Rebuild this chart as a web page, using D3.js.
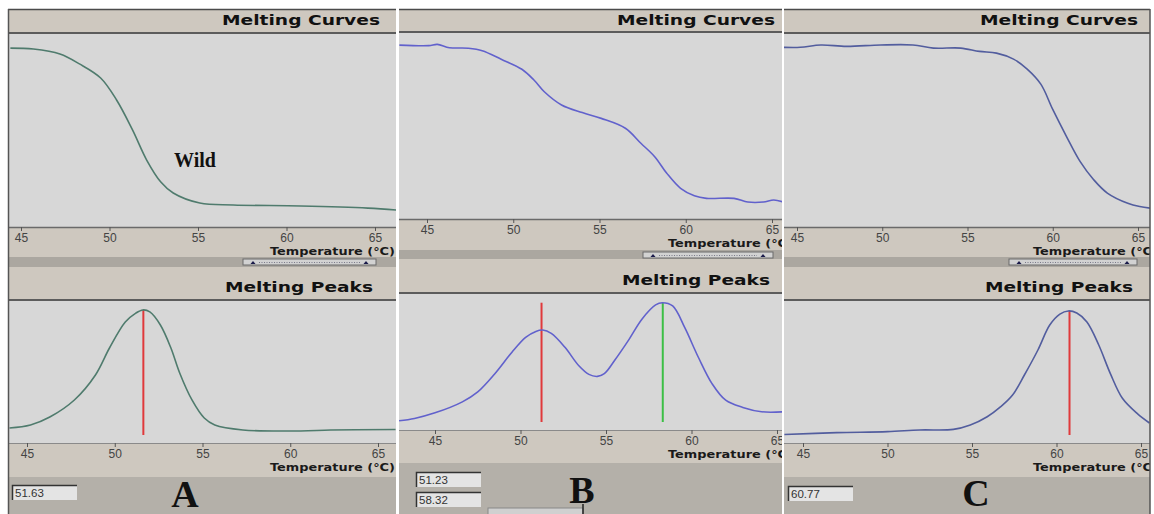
<!DOCTYPE html>
<html>
<head>
<meta charset="utf-8">
<script src="https://cdn.jsdelivr.net/npm/d3@7"></script>
<style>
  body { margin: 0; background: #fff; }
  svg { display: block; }
</style>
</head>
<body>
<svg id="fig" width="1154" height="514"></svg>
<script>
// ticks on every temperature axis
var tempTicks = [45, 50, 55, 60, 65];

// A : wild type, one melting domain
var aCurveTemp  = [44.4, 45.7, 47.2, 48.3, 49.5, 50.4, 51.3, 52.1, 52.9, 53.6, 55.1, 57.0, 60.8, 64.6, 66.2];
var aCurveFluor = [92.7, 92.2, 89.6, 84.5, 77.2, 65.8, 50.3, 34.7, 23.3, 17.6, 12.4, 11.4, 10.9, 9.8, 8.8];
var aPeakTemp   = [44.0, 45.2, 46.3, 47.7, 48.9, 49.7, 50.6, 51.2, 51.6, 52.0, 52.6, 53.2, 53.7, 54.4, 55.1, 55.7, 57.3, 60.6, 62.3, 66.0];
var aPeakDeriv  = [10.6, 12.7, 18.3, 30.3, 47.9, 66.9, 85.2, 91.5, 93.7, 92.3, 83.1, 66.9, 49.3, 30.3, 17.6, 12.7, 9.2, 8.5, 9.2, 9.5];
var aTm = [51.63];

// B : heterozygous, two peaks
var bCurveTemp  = [43.4, 45.1, 45.6, 46.3, 47.4, 48.2, 49.3, 50.5, 51.2, 51.8, 52.8, 54.0, 55.1, 56.5, 57.4, 58.2, 58.9, 59.7, 60.5, 61.2, 62.8, 63.6, 64.5, 65.1, 65.6];
var bCurveFluor = [93.5, 93.2, 93.9, 92.1, 91.8, 90.5, 85.9, 80.5, 74.7, 68.4, 61.3, 57.2, 54.1, 48.8, 40.7, 33.5, 24.6, 16.5, 12.5, 11.1, 11.1, 9.1, 9.1, 10.2, 9.3];
var bPeakTemp   = [42.9, 43.8, 45.0, 46.6, 47.5, 48.5, 49.5, 50.3, 50.9, 51.3, 51.8, 52.6, 53.4, 54.0, 54.5, 54.9, 55.5, 56.3, 57.1, 57.9, 58.3, 58.9, 59.6, 60.4, 61.2, 62.0, 63.0, 64.1, 65.4];
var bPeakDeriv  = [6.8, 8.5, 12.6, 20.7, 28.0, 41.4, 57.2, 68.1, 72.5, 73.5, 71.0, 60.8, 47.4, 40.9, 39.4, 41.4, 51.1, 65.7, 81.5, 92.0, 93.6, 91.2, 75.4, 53.5, 34.1, 21.9, 16.6, 13.4, 13.4];
var bTm = [51.23, 58.32];

// C : mutant, one high melting domain
var cCurveTemp  = [44.2, 45.2, 46.4, 47.9, 49.9, 51.8, 53.0, 54.6, 55.7, 56.7, 57.7, 58.5, 59.3, 60.0, 60.8, 61.6, 62.4, 63.2, 64.4, 65.1, 65.8];
var cCurveFluor = [93.1, 93.1, 94.3, 93.6, 94.3, 94.3, 92.7, 92.7, 91.0, 90.1, 87.0, 81.8, 74.0, 60.9, 47.0, 34.0, 24.5, 17.6, 12.3, 10.6, 9.7];
var cPeakTemp   = [43.9, 47.0, 50.0, 51.9, 53.9, 54.9, 55.9, 56.7, 57.4, 58.1, 58.9, 59.6, 60.2, 60.7, 61.2, 61.8, 62.5, 63.2, 63.9, 64.8, 65.5];
var cPeakDeriv  = [6.0, 7.3, 8.0, 9.2, 9.6, 12.7, 18.5, 25.6, 33.8, 47.9, 65.5, 83.1, 90.8, 93.0, 91.5, 85.2, 69.0, 48.5, 31.5, 20.5, 14.1];
var cTm = [60.77];

var tmColors = ["#e0393b", "#3cbf45"];

var panels = [
  { key: "A", x0: 8, x1: 396, curveT: aCurveTemp, curveV: aCurveFluor, peakT: aPeakTemp, peakV: aPeakDeriv, tm: aTm,
    color: "#4f7b6d",
    head1: [9, 33], plot1: [34, 227], scroll: [257, 267], head2: [267, 300], plot2: [301, 443], bottom: [477, 514],
    xTop: [21, 375], xBot: [27, 378], title1X: 380, title2X: 373, tempX: 270, thumb: [243, 376],
    boxX: 12, boxY: [485], letterX: 185, letterY: 507 },
  { key: "B", x0: 399, x1: 782, curveT: bCurveTemp, curveV: bCurveFluor, peakT: bPeakTemp, peakV: bPeakDeriv, tm: bTm,
    color: "#6161cc",
    head1: [9, 32], plot1: [33, 219], scroll: [250, 259], head2: [259, 293], plot2: [294, 430], bottom: [463, 514],
    xTop: [427, 772], xBot: [435, 777], title1X: 775, title2X: 770, tempX: 668, thumb: [643, 773],
    boxX: 416, boxY: [472, 492], letterX: 582, letterY: 503 },
  { key: "C", x0: 784, x1: 1150, curveT: cCurveTemp, curveV: cCurveFluor, peakT: cPeakTemp, peakV: cPeakDeriv, tm: cTm,
    color: "#525d9e",
    head1: [9, 33], plot1: [34, 227], scroll: [257, 267], head2: [267, 300], plot2: [301, 443], bottom: [477, 514],
    xTop: [797, 1138], xBot: [803, 1141], title1X: 1138, title2X: 1133, tempX: 1033, thumb: [1009, 1137],
    boxX: 788, boxY: [486], letterX: 976, letterY: 506 }
];

var svg = d3.select("#fig");
var defs = svg.append("defs");
var sans = "Liberation Sans, Arial, sans-serif";

function band(g, p, y, fill) {
  g.append("rect").attr("x", p.x0).attr("y", y[0]).attr("width", p.x1 - p.x0).attr("height", y[1] - y[0]).attr("fill", fill);
}

function hline(g, p, y, color, w) {
  g.append("line").attr("x1", p.x0).attr("x2", p.x1).attr("y1", y).attr("y2", y)
    .attr("stroke", color).attr("stroke-width", w);
}

function drawAxis(g, p, scale, y) {
  var ax = g.append("g").attr("transform", "translate(0," + y + ")")
    .call(d3.axisBottom(scale).tickValues(tempTicks).tickSize(4).tickPadding(2));
  ax.select(".domain").remove();
  ax.selectAll("line").attr("stroke", "#555");
  ax.selectAll("text").attr("fill", "#444").attr("font-size", 12).attr("font-family", sans);
  g.append("text").attr("x", p.tempX).attr("y", y + 28)
    .attr("font-family", "DejaVu Sans, sans-serif").attr("font-weight", "bold").attr("font-size", 11)
    .attr("fill", "#1a1a1a").attr("textLength", 125).attr("lengthAdjust", "spacingAndGlyphs")
    .text("Temperature (°C)");
}

function drawPlot(g, p, yr, xs, temps, vals, clipName) {
  var ys = d3.scaleLinear().domain([0, 100]).range([yr[1], yr[0]]);
  defs.append("clipPath").attr("id", clipName).append("rect")
    .attr("x", p.x0).attr("y", yr[0]).attr("width", p.x1 - p.x0).attr("height", yr[1] - yr[0]);
  var pts = temps.map(function (t, i) { return [t, vals[i]]; });
  var line = d3.line().x(function (d) { return xs(d[0]); }).y(function (d) { return ys(d[1]); })
    .curve(d3.curveCatmullRom.alpha(0.5));
  var pg = g.append("g").attr("clip-path", "url(#" + clipName + ")");
  pg.append("path").attr("d", line(pts)).attr("fill", "none").attr("stroke", p.color).attr("stroke-width", 1.6);
  return { ys: ys, pg: pg };
}

panels.forEach(function (p) {
  defs.append("clipPath").attr("id", "panel" + p.key).append("rect")
    .attr("x", p.x0).attr("y", 0).attr("width", p.x1 - p.x0).attr("height", 514);
  var g = svg.append("g").attr("clip-path", "url(#panel" + p.key + ")");

  // background bands
  band(g, p, [p.head1[0], p.bottom[1]], "#cec8bf");
  band(g, p, p.plot1, "#d7d7d7");
  band(g, p, p.scroll, "#aba7a0");
  band(g, p, p.plot2, "#d7d7d7");
  band(g, p, p.bottom, "#b4b0a9");
  hline(g, p, p.head1[0] + 0.5, "#4a4a4a", 1.5);
  hline(g, p, p.head1[1], "#5c5c5c", 2);
  hline(g, p, p.plot1[1] + 0.5, "#6a6a6a", 1.5);
  hline(g, p, p.head2[1], "#5c5c5c", 2);
  hline(g, p, p.plot2[1] + 0.5, "#8a8a8a", 1.2);

  // titles
  g.append("text").attr("x", p.title1X).attr("y", p.head1[0] + 16).attr("text-anchor", "end")
    .attr("font-family", "DejaVu Sans, sans-serif").attr("font-weight", "bold").attr("font-size", 13.5)
    .attr("fill", "#111").attr("textLength", 158).attr("lengthAdjust", "spacingAndGlyphs").text("Melting Curves");
  g.append("text").attr("x", p.title2X).attr("y", p.head2[1] - 8).attr("text-anchor", "end")
    .attr("font-family", "DejaVu Sans, sans-serif").attr("font-weight", "bold").attr("font-size", 14)
    .attr("fill", "#111").attr("textLength", 148).attr("lengthAdjust", "spacingAndGlyphs").text("Melting Peaks");

  // melting curve
  var xTop = d3.scaleLinear().domain([45, 65]).range(p.xTop);
  drawPlot(g, p, p.plot1, xTop, p.curveT, p.curveV, "c1" + p.key);
  drawAxis(g, p, xTop, p.plot1[1]);

  // scroll thumb
  var th = g.append("g");
  var ty = p.scroll[0] + 2, tw = p.thumb[1] - p.thumb[0];
  th.append("rect").attr("x", p.thumb[0]).attr("y", ty).attr("width", tw).attr("height", 6)
    .attr("fill", "#d2d2d2").attr("stroke", "#6a6a6a").attr("stroke-width", 1);
  th.append("line").attr("x1", p.thumb[0] + 16).attr("x2", p.thumb[1] - 16).attr("y1", ty + 3.5).attr("y2", ty + 3.5)
    .attr("stroke", "#7a7a8a").attr("stroke-width", 1).attr("stroke-dasharray", "1,1.5");
  [p.thumb[0] + 10, p.thumb[1] - 10].forEach(function (cx) {
    th.append("path").attr("d", "M" + (cx - 2.5) + "," + (ty + 5) + "L" + cx + "," + (ty + 2) + "L" + (cx + 2.5) + "," + (ty + 5) + "Z")
      .attr("fill", "#1a1a4a");
  });

  // melting peaks
  var xBot = d3.scaleLinear().domain([45, 65]).range(p.xBot);
  var res = drawPlot(g, p, p.plot2, xBot, p.peakT, p.peakV, "c2" + p.key);
  var topV = d3.max(p.peakV);
  p.tm.forEach(function (t, i) {
    res.pg.insert("line", "path").attr("x1", xBot(t)).attr("x2", xBot(t))
      .attr("y1", res.ys(topV)).attr("y2", p.plot2[1] - 8)
      .attr("stroke", tmColors[i]).attr("stroke-width", 2);
  });
  drawAxis(g, p, xBot, p.plot2[1]);

  // Tm readouts
  p.tm.forEach(function (t, i) {
    var by = p.boxY[i];
    g.append("rect").attr("x", p.boxX).attr("y", by).attr("width", 65).attr("height", 15).attr("fill", "#e4e4e4");
    g.append("path").attr("d", "M" + (p.boxX + 0.5) + "," + (by + 15) + "V" + (by + 0.5) + "H" + (p.boxX + 65))
      .attr("fill", "none").attr("stroke", "#333").attr("stroke-width", 1.5);
    g.append("text").attr("x", p.boxX + 3).attr("y", by + 12)
      .attr("font-family", sans).attr("font-size", 11.5).attr("fill", "#333")
      .text(t.toFixed(2));
  });

  g.append("text").attr("x", p.letterX).attr("y", p.letterY).attr("text-anchor", "middle")
    .attr("font-family", "Liberation Serif, Times New Roman, serif").attr("font-weight", "bold").attr("font-size", 38)
    .attr("fill", "#111").text(p.key);
});

// panel borders
svg.append("line").attr("x1", 8.5).attr("x2", 8.5).attr("y1", 9).attr("y2", 514).attr("stroke", "#555").attr("stroke-width", 1.5);
svg.append("line").attr("x1", 1150).attr("x2", 1150).attr("y1", 9).attr("y2", 514).attr("stroke", "#555").attr("stroke-width", 1.5);

// label inside the wild-type curve
svg.append("text").attr("x", 174).attr("y", 167)
  .attr("font-family", "Liberation Serif, Times New Roman, serif").attr("font-weight", "bold").attr("font-size", 20)
  .attr("fill", "#111").text("Wild");

// partly hidden button under panel B
svg.append("rect").attr("x", 488).attr("y", 508).attr("width", 95).attr("height", 8)
  .attr("fill", "#d0d0d0").attr("stroke", "#888").attr("stroke-width", 1);
svg.append("line").attr("x1", 583).attr("x2", 583).attr("y1", 504).attr("y2", 514).attr("stroke", "#222").attr("stroke-width", 1.5);
</script>
</body>
</html>
